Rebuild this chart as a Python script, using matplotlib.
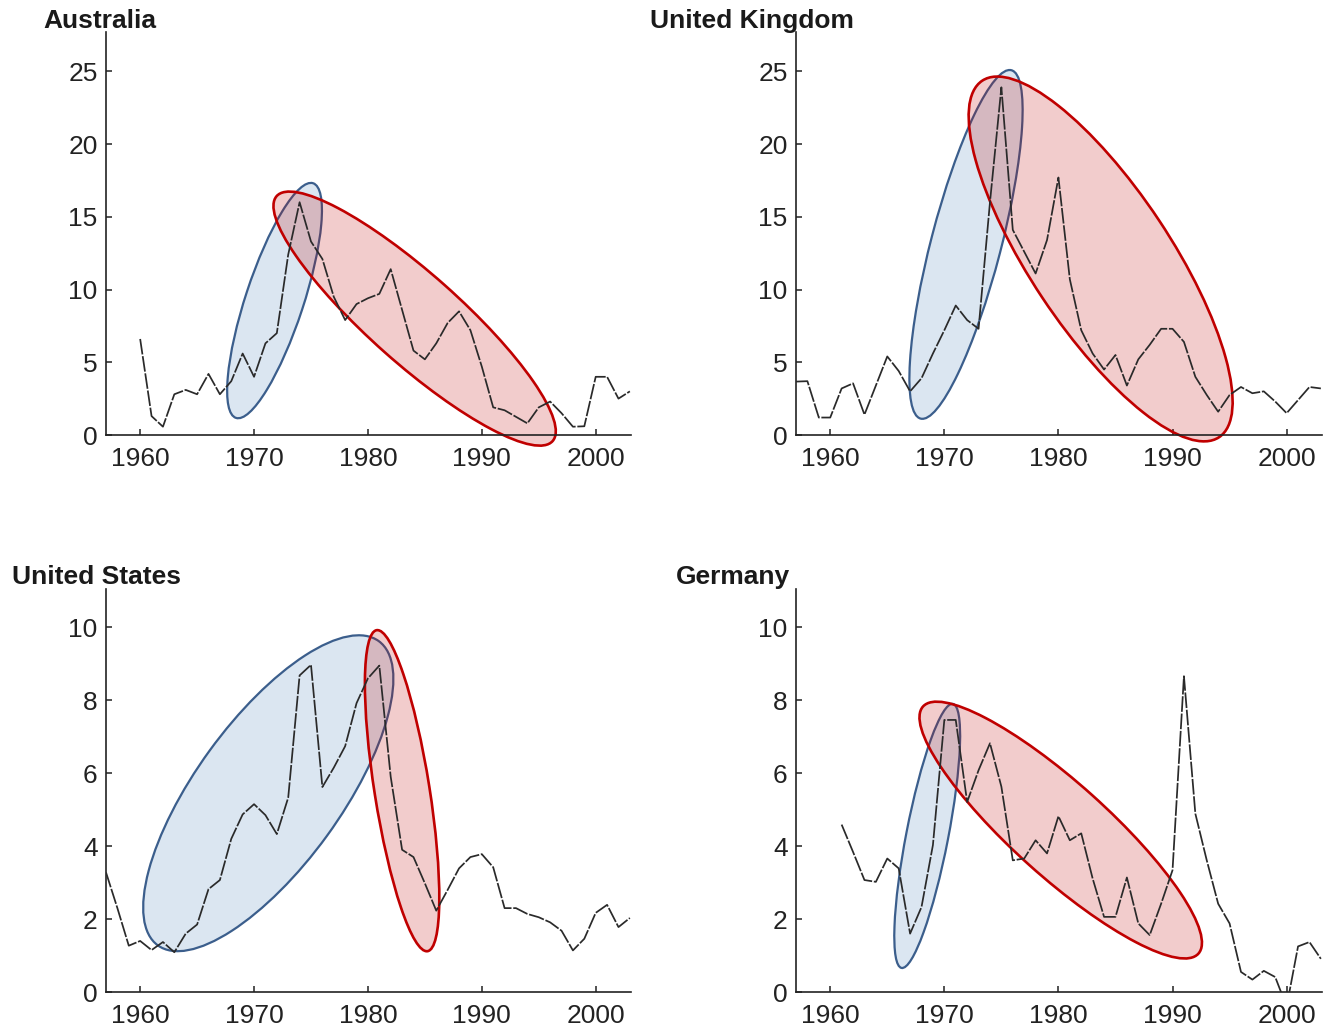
import matplotlib
matplotlib.use("Agg")
import matplotlib.pyplot as plt
from matplotlib.patches import Ellipse
from matplotlib.transforms import ScaledTranslation

plt.rcParams['font.family'] = ['Liberation Sans', 'DejaVu Sans']

# Data (annual inflation, %)
aus_years = list(range(1960, 2004))
aus_infl = [6.6, 1.3, 0.57, 2.8, 3.1, 2.8, 4.2, 2.8, 3.7, 5.6,
            4.0, 6.3, 7.0, 12.4, 16.0, 13.3, 12.1, 9.5, 7.9, 9.0,
            9.4, 9.7, 11.4, 8.6, 5.8, 5.2, 6.3, 7.7, 8.5, 7.2,
            4.7, 1.9, 1.7, 1.25, 0.8, 1.9, 2.3, 1.5, 0.57, 0.6,
            4.0, 4.0, 2.5, 3.0]

uk_years = list(range(1957, 2004))
uk_infl = [3.67, 3.7, 1.2, 1.2, 3.2, 3.55, 1.4, 3.4, 5.4, 4.4,
           3.0, 3.9, 5.6, 7.2, 8.9, 7.9, 7.3, 16.0, 23.9, 14.1,
           12.6, 11.1, 13.4, 17.7, 10.7, 7.2, 5.6, 4.5, 5.5, 3.4,
           5.2, 6.2, 7.3, 7.3, 6.4, 4.0, 2.75, 1.6, 2.75, 3.3,
           2.87, 3.0, 2.3, 1.5, 2.4, 3.3, 3.2]

us_years = list(range(1957, 2004))
us_infl = [3.28, 2.3, 1.27, 1.4, 1.15, 1.37, 1.09, 1.6, 1.85, 2.82,
           3.07, 4.2, 4.87, 5.15, 4.85, 4.33, 5.33, 8.68, 8.97, 5.62,
           6.15, 6.74, 7.92, 8.6, 8.95, 5.9, 3.9, 3.7, 2.98, 2.23,
           2.8, 3.39, 3.7, 3.78, 3.42, 2.3, 2.3, 2.14, 2.05, 1.91,
           1.68, 1.14, 1.46, 2.17, 2.39, 1.78, 2.03]

de_years = list(range(1961, 2004))
de_infl = [4.59, 3.84, 3.07, 3.02, 3.66, 3.39, 1.6, 2.33, 4.03, 7.46,
           7.46, 5.21, 6.08, 6.82, 5.63, 3.61, 3.66, 4.16, 3.80, 4.82,
           4.16, 4.35, 3.11, 2.06, 2.06, 3.14, 1.88, 1.56, 2.42, 3.34,
           8.66, 4.89, 3.61, 2.42, 1.88, 0.55, 0.34, 0.58, 0.41, -0.4,
           1.25, 1.37, 0.91]

titles = ['Australia', 'United Kingdom', 'United States', 'Germany']

# ellipses: (centre year, centre value, length in, thickness in, angle)
blue_ell = [(1971.8, 9.24, 2.47, 0.58, 71.8),
            (1971.9, 13.1, 3.60, 0.70, 75.4),
            (1971.25, 5.45, 3.76, 1.45, 54.0),
            (1968.5, 4.28, 2.69, 0.42, 79.0)]
red_ell = [(1984.1, 8.0, 3.69, 0.90, -41.6),
           (1983.7, 12.1, 4.28, 1.40, -56.4),
           (1983.0, 5.52, 3.25, 0.55, -81.0),
           (1980.2, 4.44, 3.70, 0.94, -41.9)]

W, H = 1324, 1029
fig = plt.figure(figsize=(W / 100, H / 100), dpi=100)

# axes boxes in pixels: left, top, right, bottom
boxes = [(106, 32, 631, 435), (796, 32, 1322, 435),
         (106, 589, 631, 992), (796, 589, 1322, 992)]
title_pos = [(43, 28), (650, 28), (12, 584), (676, 584)]
series = [(aus_years, aus_infl), (uk_years, uk_infl),
          (us_years, us_infl), (de_years, de_infl)]
ytop = [27.7, 27.7, 11.05, 11.05]
ystep = [5, 5, 2, 2]

for i in range(4):
    l, t, r, b = boxes[i]
    ax = fig.add_axes([l / W, 1 - b / H, (r - l) / W, (b - t) / H])
    x, y = series[i]
    ax.plot(x, y, color='#2a2a2a', lw=1.25, ls=(0, (9, 1)), zorder=3)
    ax.set_xlim(1957, 2003.1)
    ax.set_ylim(0, ytop[i])
    ax.set_xticks(range(1960, 2001, 10))
    ax.set_yticks(range(0, int(ytop[i]) + 1, ystep[i]))
    for s in ['top', 'right']:
        ax.spines[s].set_visible(False)
    for s in ['left', 'bottom']:
        ax.spines[s].set_linewidth(1.2)
        ax.spines[s].set_color('#222222')
    ax.tick_params(direction='in', length=4.5, width=1.1, labelsize=19,
                   colors='#222222', pad=6)
    ax.tick_params(axis='x', pad=8.5)

    for (cx, cy, w, h, ang), fc, ec, lw in [
            (blue_ell[i], (0.31, 0.51, 0.74, 0.2), '#3b5e8c', 1.6),
            (red_ell[i], (0.75, 0.0, 0.0, 0.2), '#c00000', 1.9)]:
        tr = fig.dpi_scale_trans + ScaledTranslation(cx, cy, ax.transData)
        ax.add_patch(Ellipse((0, 0), w, h, angle=ang, transform=tr,
                             facecolor=fc, edgecolor=ec, lw=lw,
                             zorder=2, clip_on=False))

    tx, ty = title_pos[i]
    fig.text(tx / W, 1 - ty / H, titles[i], fontsize=19, fontweight='bold',
             color='#1a1a1a', ha='left', va='baseline')

fig.savefig('out.png', dpi=100)
